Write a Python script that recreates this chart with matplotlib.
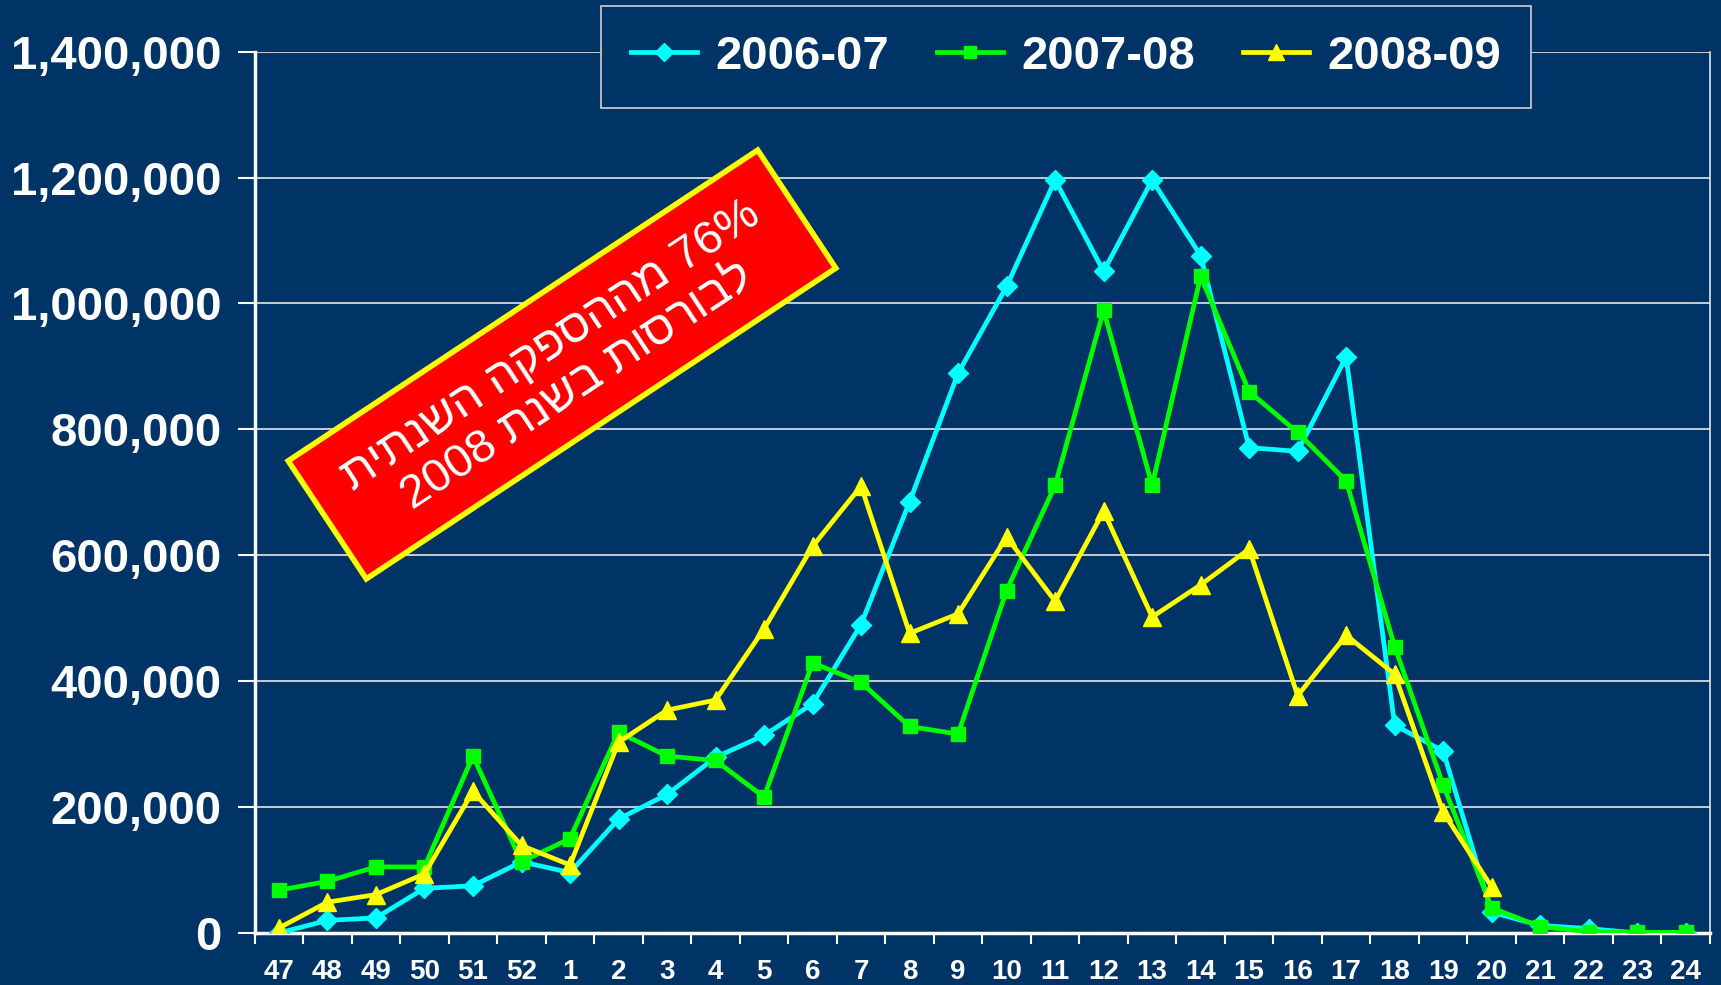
import matplotlib
matplotlib.use('Agg')
import matplotlib.pyplot as plt
import matplotlib.patches as patches
from matplotlib.ticker import FuncFormatter, FixedLocator

#----------------------------
#          DATA
#----------------------------
weeks = ['47', '48', '49', '50', '51', '52'] + [str(i) for i in range(1, 25)]

s0607 = [0, 20000, 24000, 71000, 75000, 113000, 96000, 181000, 220000, 279000,
         314000, 364000, 490000, 685000, 889000, 1027000, 1196000, 1051000, 1196000, 1076000,
         771000, 765000, 915000, 330000, 289000, 33000, 12000, 7000, 0, 0]
s0708 = [68000, 82000, 105000, 105000, 281000, 113000, 150000, 319000, 281000, 274000,
         216000, 429000, 398000, 328000, 316000, 544000, 711000, 989000, 711000, 1043000,
         860000, 795000, 718000, 455000, 235000, 40000, 10000, 2000, 1000, 1000]
s0809 = [8000, 49000, 61000, 94000, 225000, 139000, 108000, 303000, 354000, 370000,
         483000, 614000, 710000, 476000, 507000, 629000, 527000, 670000, 502000, 553000,
         610000, 377000, 473000, 411000, 192000, 73000]

labels = ['2006-07', '2007-08', '2008-09']
note_lines = ['76% מההספקה השנתית', 'לבורסות בשנת 2008']

bg = '#003366'
fonts = ['Liberation Sans', 'DejaVu Sans']


def visual_rtl(line):
    # matplotlib has no bidi: flip word order, flip letters of hebrew words
    out = []
    for w in line.split(' ')[::-1]:
        if any('\u0590' <= c <= '\u05ff' for c in w):
            out.append(w[::-1])
        else:
            out.append(w)
    return ' '.join(out)


fig = plt.figure(figsize=(17.21, 9.85), dpi=100, facecolor=bg)
ax = fig.add_axes([0.148, 0.0528, 0.9936 - 0.148, 0.9476 - 0.0528])
ax.set_facecolor(bg)

x = list(range(len(weeks)))
line1 = ax.plot(x, s0607, '-', color='#00FFFF', marker='D', ms=10.5, lw=3.4, label=labels[0], zorder=3)
line2 = ax.plot(x, s0708, '-', color='#00FF00', marker='s', ms=10.5, lw=3.4, label=labels[1], zorder=4)
line3 = ax.plot(x[:len(s0809)], s0809, '-', color='#FFFF00', marker='^', ms=13, lw=3.4, label=labels[2], zorder=5)

ax.set_xlim(-0.5, len(weeks) - 0.5)
ax.set_ylim(0, 1400000)
ax.set_yticks(range(0, 1400001, 200000))
ax.yaxis.set_major_formatter(FuncFormatter(lambda v, p: '{:,.0f}'.format(v)))
ax.grid(axis='y', color='#e6e6e6', lw=1.2, zorder=1)

ax.set_xticks(x)
ax.set_xticklabels(weeks)
ax.xaxis.set_minor_locator(FixedLocator([i - 0.5 for i in range(len(weeks) + 1)]))
ax.tick_params(axis='x', which='major', length=0, pad=19)
ax.tick_params(axis='x', which='minor', length=8, width=1.5, color='white', direction='out')
ax.tick_params(axis='y', length=12, width=1.5, color='white', pad=12)

for t in ax.get_xticklabels():
    t.set_fontsize(20)
    t.set_fontweight('bold')
    t.set_color('white')
    t.set_fontfamily(fonts)
for t in ax.get_yticklabels():
    t.set_fontsize(34)
    t.set_fontweight('bold')
    t.set_color('white')
    t.set_fontfamily(fonts)

for side in ['left', 'bottom']:
    ax.spines[side].set_color('white')
    ax.spines[side].set_linewidth(2.5)
ax.spines['right'].set_color('#e6e6e6')
ax.spines['right'].set_linewidth(1.2)
ax.spines['top'].set_visible(False)

lines = line1 + line2 + line3
labs = [l.get_label() for l in lines]
leg = fig.legend(lines, labs, loc='upper center', bbox_to_anchor=(0.6194, 0.9944), ncol=3,
                 frameon=True, fancybox=False, facecolor=bg, edgecolor='#d0d0d0', framealpha=1,
                 prop={'family': fonts, 'weight': 'bold', 'size': 34}, borderaxespad=0,
                 handlelength=1.4, columnspacing=1.0, handletextpad=0.4, borderpad=0.62,
                 markerscale=0.85)
leg.get_frame().set_linewidth(1.2)
for t in leg.get_texts():
    t.set_color('white')

# red rotated note box (sizes in inches on the figure)
ang = 33.5
cx, cy = 5.62, 6.205
bw, bh = 5.63, 1.415
box = patches.Rectangle((cx - bw / 2, cy - bh / 2), bw, bh, angle=ang, rotation_point='center',
                        facecolor='#FF0000', edgecolor='#FFFF00', lw=4, transform=fig.dpi_scale_trans,
                        zorder=10)
fig.patches.append(box)
fig.text(cx + 0.02, cy - 0.02, '\n'.join(visual_rtl(s) for s in note_lines), transform=fig.dpi_scale_trans,
         rotation=ang, rotation_mode='anchor', ha='center', va='center', multialignment='center',
         fontsize=34, color='white', family=fonts, linespacing=1.12,
         zorder=11)

plt.savefig('out.png', dpi=100, facecolor=bg)
